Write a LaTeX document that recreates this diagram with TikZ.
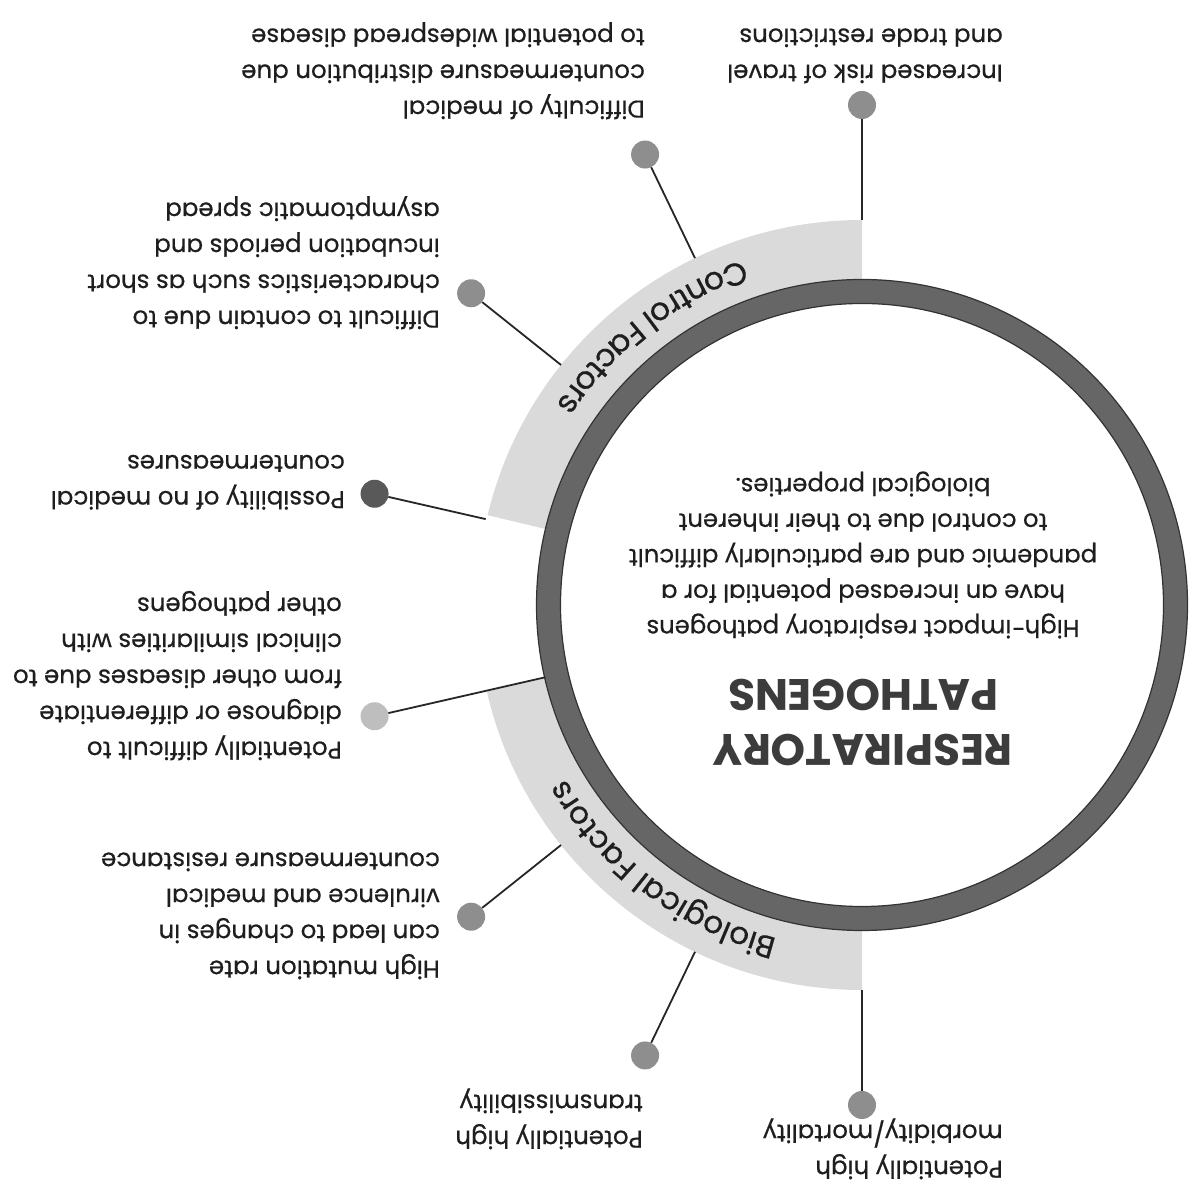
\documentclass[tikz,border=0pt]{standalone}
\usepackage{fontspec}
\setmainfont{Poppins}
\newfontfamily\medfont{Poppins}[FakeBold=0.5]
\usetikzlibrary{calc,decorations.text}
\definecolor{ringgray}{HTML}{666666}
\definecolor{ringedge}{HTML}{333333}
\definecolor{bandgray}{HTML}{DADADA}
\definecolor{dotgray}{HTML}{8E8E8E}
\definecolor{dotdark}{HTML}{595959}
\definecolor{dotlight}{HTML}{BEBEBE}
\definecolor{txt}{HTML}{1E1E1E}
\definecolor{titlegray}{HTML}{3C3C3C}
\begin{document}
\begin{tikzpicture}[x=1pt,y=1pt,
  lbl/.style={text=txt, font=\medfont\fontsize{24.5}{36}\selectfont, align=left, anchor=north west, inner sep=0pt, rotate=180},
  dotnode/.style={circle, fill=#1, minimum size=28pt, inner sep=0pt},
  conn/.style={line width=1.8pt, draw=black!85}]
\useasboundingbox (0,0) rectangle (1198,1202);
\fill[white] (0,0) rectangle (1198,1202);
\coordinate (c) at (862,597);
% bands
\fill[bandgray] ($(c)+(90:385)$) arc[start angle=90, end angle=166.5, radius=385]
  -- ($(c)+(166.5:322)$) arc[start angle=166.5, end angle=90, radius=322] -- cycle;
\fill[bandgray] ($(c)+(193:385)$) arc[start angle=193, end angle=270, radius=385]
  -- ($(c)+(270:322)$) arc[start angle=270, end angle=193, radius=322] -- cycle;
% ring
\draw[ringgray, line width=24pt] (c) circle[radius=313.5];
\draw[ringedge, line width=1.2pt] (c) circle[radius=325.5];
\draw[ringedge, line width=1.2pt] (c) circle[radius=301.5];
% band texts
\path[decorate, decoration={text along path, text align=center, text color=txt,
  text={|\medfont\fontsize{31.5}{31.5}\selectfont|Control Factors}}]
  ($(c)+(83:365)$) arc[start angle=83, end angle=173, radius=365];
\path[decorate, decoration={text along path, text align=center, text color=txt,
  text={|\medfont\fontsize{31}{31}\selectfont|Biological Factors}}]
  ($(c)+(280:344)$) arc[start angle=280, end angle=186, radius=344];
% dots
\node[dotnode=dotgray]  (d1) at ($(c)+(90:500)$) {};
\node[dotnode=dotgray]  (d2) at ($(c)+(115.714:500)$) {};
\node[dotnode=dotgray]  (d3) at ($(c)+(141.429:500)$) {};
\node[dotnode=dotdark]  (d4) at ($(c)+(167.143:500)$) {};
\node[dotnode=dotlight] (d5) at ($(c)+(192.857:500)$) {};
\node[dotnode=dotgray]  (d6) at ($(c)+(218.571:500)$) {};
\node[dotnode=dotgray]  (d7) at ($(c)+(244.286:500)$) {};
\node[dotnode=dotgray]  (d8) at ($(c)+(270:500)$) {};
\coordinate (e1) at ($(c)+(90:385)$);
\coordinate (e2) at ($(c)+(115.714:385)$);
\coordinate (e3) at ($(c)+(141.429:385)$);
\coordinate (e4) at ($(c)+(167.143:386)$);
\coordinate (e5) at ($(c)+(192.857:325)$);
\coordinate (e6) at ($(c)+(218.571:385)$);
\coordinate (e7) at ($(c)+(244.286:385)$);
\coordinate (e8) at ($(c)+(270:385)$);
\foreach \i in {1,...,8} \draw[conn] (e\i) -- (d\i);
% labels
\node[lbl] (tA) at (1003,1118.5) {Increased risk of travel\\and trade restrictions};
\node[lbl] (tB) at (645,1082.5) {Difficulty of medical\\countermeasure distribution due\\to potential widespread disease};
\node[lbl] (tC) at (440,872.5) {Difficult to contain due to\\characteristics such as short\\incubation periods and\\asymptomatic spread};
\node[lbl] (tD) at (345,692) {Possibility of no medical\\countermeasures};
\node[lbl] (tE) at (342,441.5) {Potentially difficult to\\diagnose or differentiate\\from other diseases due to\\clinical similarities with\\other pathogens};
\node[lbl] (tF) at (440,222.5) {High mutation rate\\can lead to changes in\\virulence and medical\\countermeasure resistance};
\node[lbl] (tG) at (643,52.5) {Potentially high\\transmissibility};
\node[lbl] (tH) at (1003,22.5) {Potentially high\\morbidity/mortality};
% centre
\node[rotate=180, align=center, inner sep=0pt, text=titlegray,
  font=\fontsize{44}{55}\selectfont\bfseries] (title) at (863,479) {RESPIRATORY\\PATHOGENS};
\node[rotate=180, align=center, inner sep=0pt, text=txt,
  font=\medfont\fontsize{24.3}{35.5}\selectfont] (body) at (863,647) {High-impact respiratory pathogens\\have an increased potential for a\\pandemic and are particularly difficult\\to control due to their inherent\\biological properties.};
\end{tikzpicture}
\end{document}
